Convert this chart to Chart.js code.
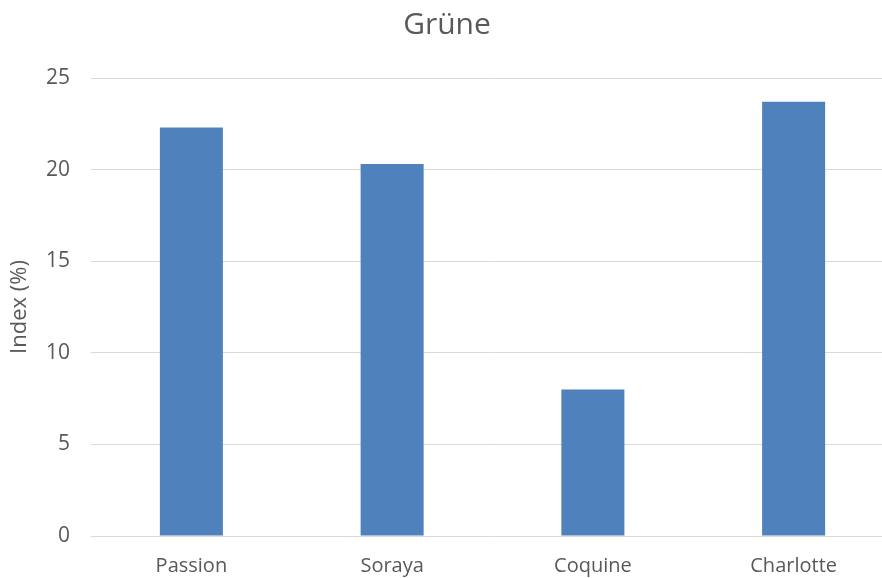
<!DOCTYPE html>
<html>
<head>
<meta charset="utf-8">
<script src="https://cdn.jsdelivr.net/npm/chart.js@4/dist/chart.umd.min.js"></script>
<style>
  html, body { margin: 0; padding: 0; background: #ffffff; overflow: hidden; }
  #wrap { width: 894px; height: 578px; position: relative; }
</style>
</head>
<body>
<div id="wrap"><canvas id="c"></canvas></div>
<script>
// Sorten und ihr Grüne-Index
const categories = ['Passion', 'Soraya', 'Coquine', 'Charlotte'];
const indexValues = [22.3, 20.3, 8.0, 23.7];
const yTicks = [0, 5, 10, 15, 20, 25];

const textColor = '#595959';
const fontFamily = '"Open Sans", "Noto Sans", "DejaVu Sans", sans-serif';

new Chart(document.getElementById('c'), {
  type: 'bar',
  data: {
    labels: categories,
    datasets: [{
      label: 'Index (%)',
      data: indexValues,
      backgroundColor: '#4F81BD',
      borderWidth: 0,
      barPercentage: 1,
      categoryPercentage: 0.314
    }]
  },
  options: {
    responsive: true,
    maintainAspectRatio: false,
    animation: false,
    layout: { padding: { left: 0, right: 0, top: 0, bottom: 0 } },
    plugins: {
      legend: { display: false },
      tooltip: { enabled: false },
      title: {
        display: true,
        text: 'Grüne',
        color: textColor,
        font: { family: fontFamily, size: 30, weight: 'normal' },
        padding: { top: 7, bottom: 35 }
      }
    },
    scales: {
      x: {
        grid: { display: false, drawTicks: false },
        border: { display: false },
        ticks: {
          color: textColor,
          font: { family: fontFamily, size: 20 },
          padding: 18
        },
        afterFit: s => { s.height = 42; }
      },
      y: {
        min: 0,
        max: 25,
        afterBuildTicks: s => { s.ticks = yTicks.map(v => ({ value: v })); },
        grid: { color: '#D9D9D9', lineWidth: 1, drawTicks: false },
        border: { display: false },
        ticks: {
          color: textColor,
          font: { family: fontFamily, size: 21 },
          padding: 21
        },
        title: {
          display: true,
          text: 'Index (%)',
          color: textColor,
          font: { family: fontFamily, size: 22, weight: 'normal' },
          padding: { top: 7, bottom: 0 }
        },
        afterFit: s => { s.width = 91; }
      }
    }
  }
});
</script>
</body>
</html>
